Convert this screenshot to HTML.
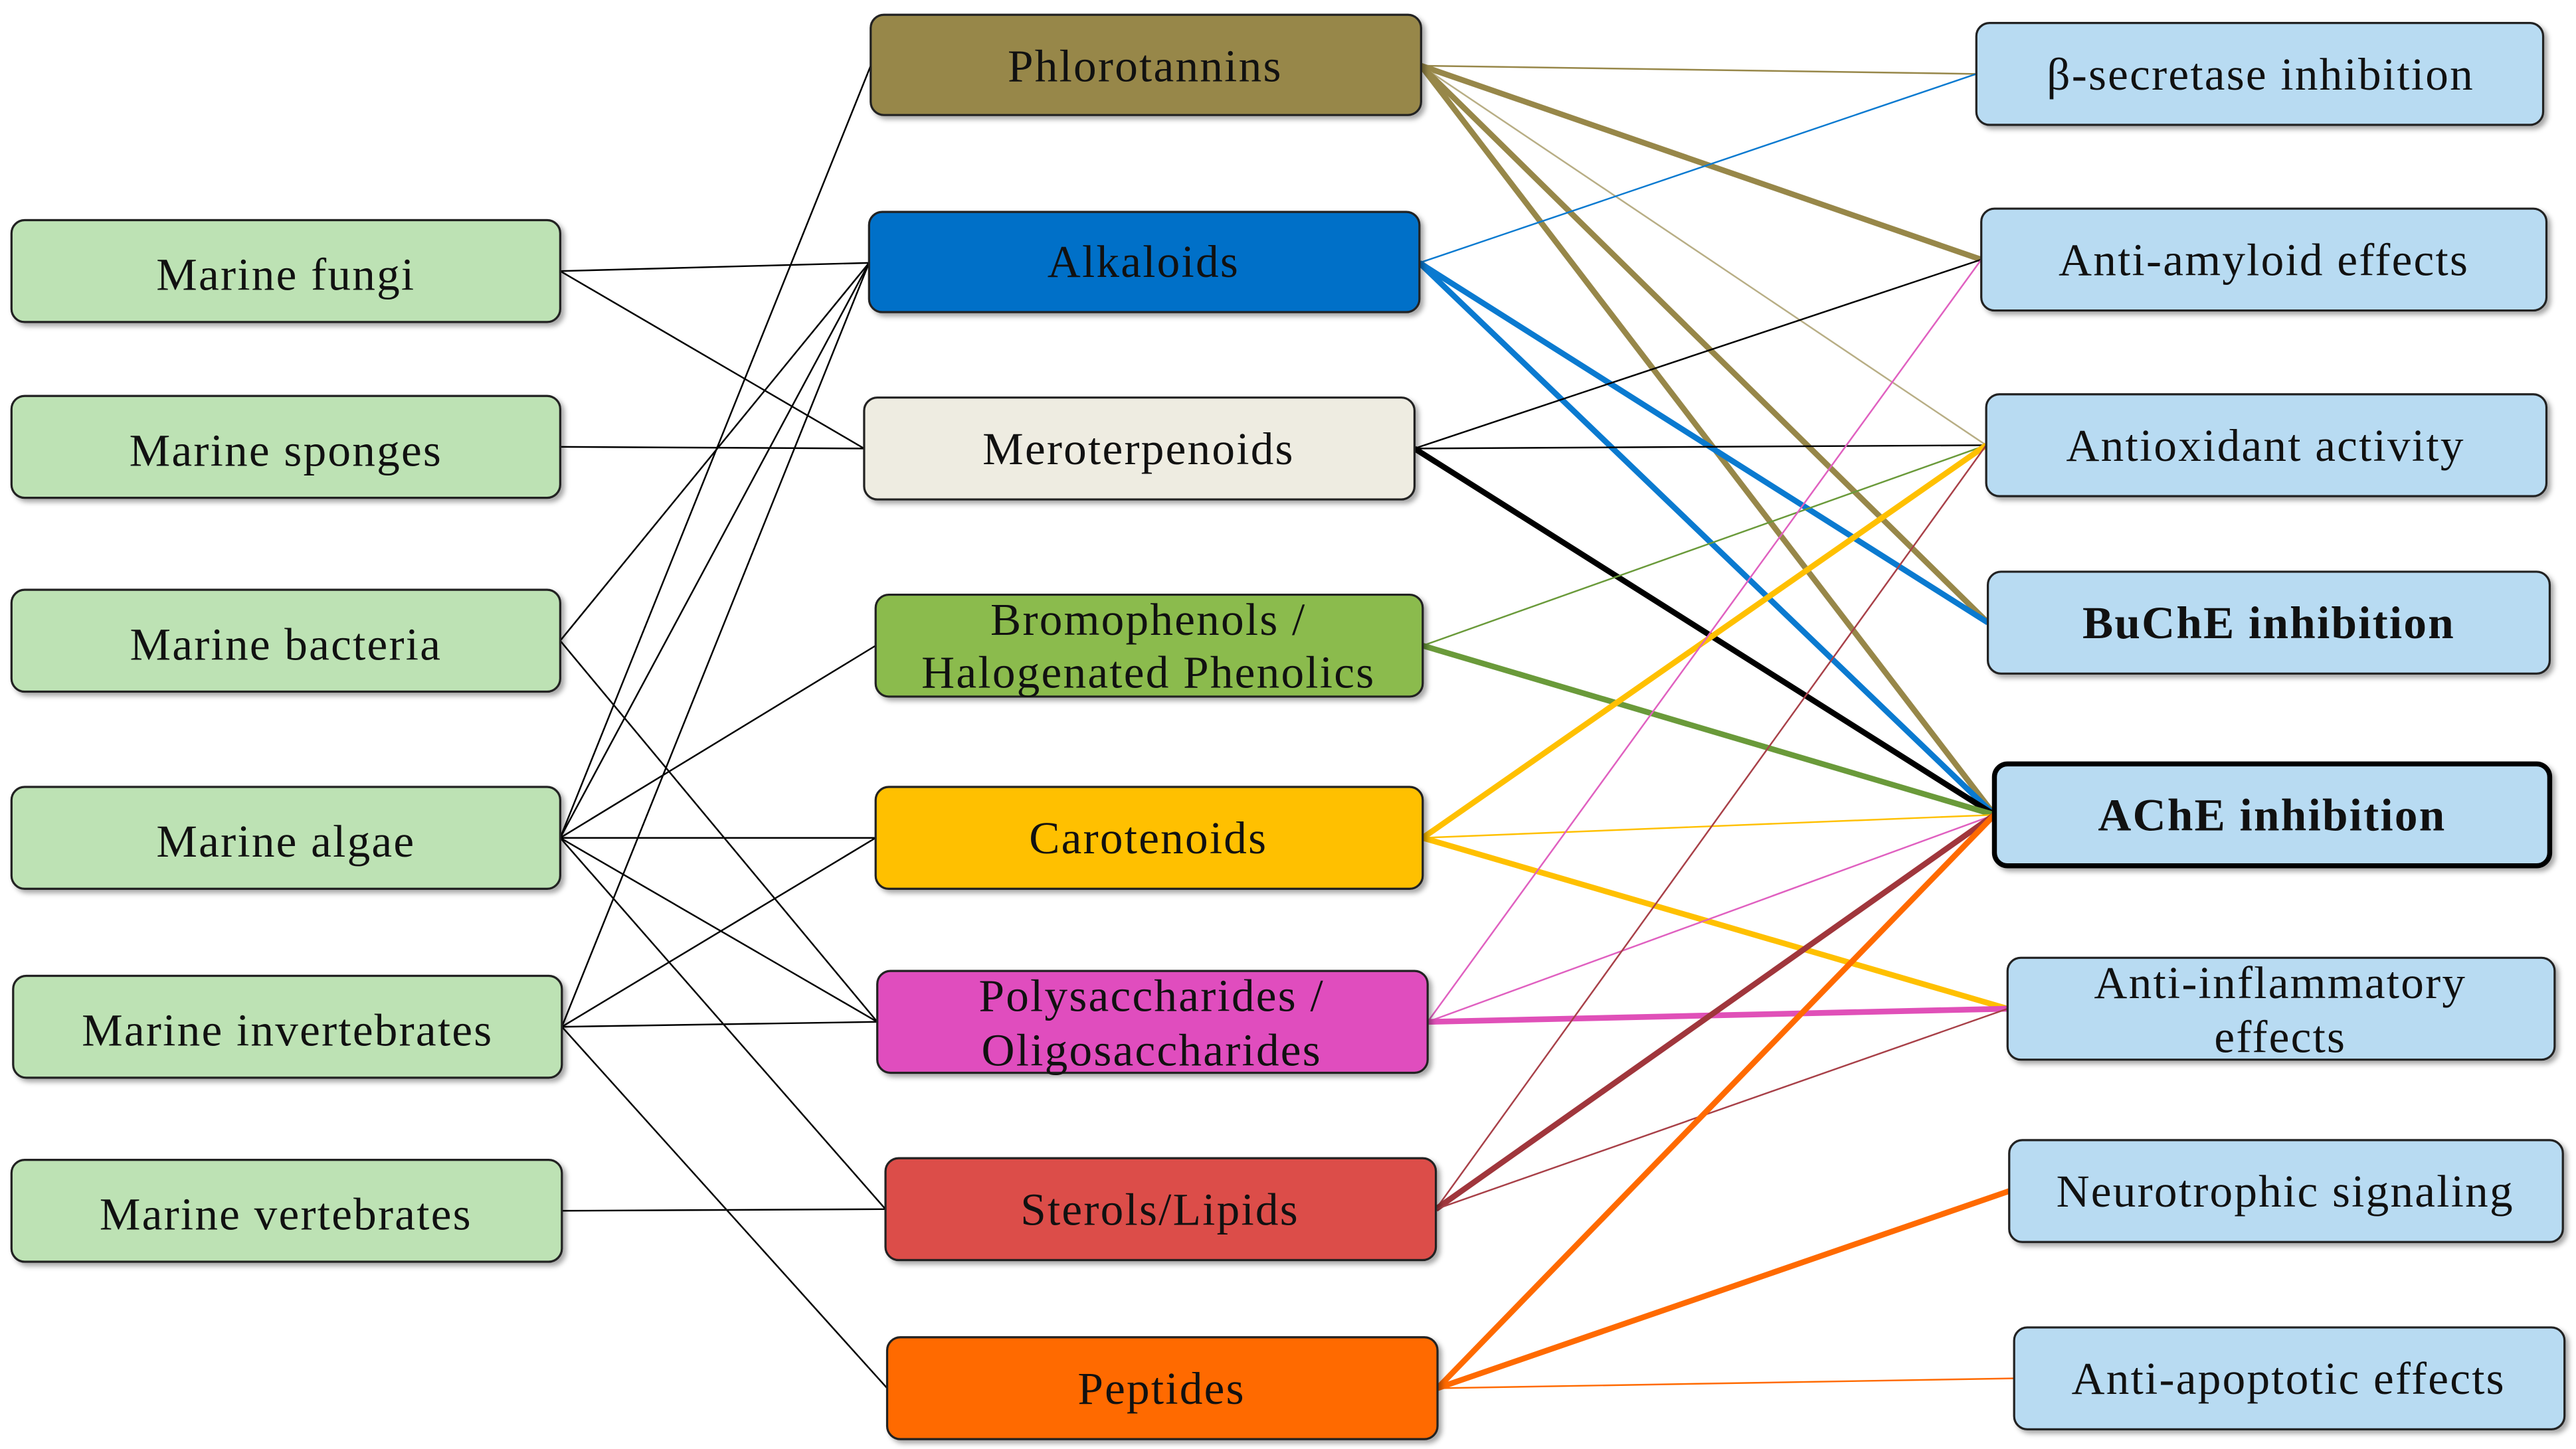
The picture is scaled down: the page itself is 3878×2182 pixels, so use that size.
<!DOCTYPE html>
<html><head><meta charset="utf-8"><style>
html,body{margin:0;padding:0;background:#fff}
svg{display:block}
text{font-family:"Liberation Serif",serif;font-size:28px;letter-spacing:0.9px;fill:#111;text-anchor:middle;dominant-baseline:central}
</style></head><body>
<svg width="3878" height="2182" viewBox="0 0 1568 882" preserveAspectRatio="none" xmlns="http://www.w3.org/2000/svg">
<defs><filter id="sh" x="-5%" y="-10%" width="110%" height="130%"><feDropShadow dx="2" dy="2" stdDeviation="1.5" flood-color="#000" flood-opacity="0.35"/></filter></defs>
<g stroke="#000" stroke-width="1">
<line x1="341" y1="165" x2="529" y2="160"/>
<line x1="341" y1="165" x2="526" y2="273"/>
<line x1="341" y1="272" x2="526" y2="273"/>
<line x1="341" y1="390" x2="529" y2="160"/>
<line x1="341" y1="390" x2="534" y2="622"/>
<line x1="341" y1="510" x2="530" y2="40"/>
<line x1="341" y1="510" x2="529" y2="160"/>
<line x1="341" y1="510" x2="533" y2="393"/>
<line x1="341" y1="510" x2="533" y2="510"/>
<line x1="341" y1="510" x2="534" y2="622"/>
<line x1="341" y1="510" x2="539" y2="736"/>
<line x1="342" y1="625" x2="529" y2="160"/>
<line x1="342" y1="625" x2="533" y2="510"/>
<line x1="342" y1="625" x2="534" y2="622"/>
<line x1="342" y1="625" x2="540" y2="845"/>
<line x1="342" y1="737" x2="539" y2="736"/>
</g>
<g fill="none">
<line x1="865" y1="40" x2="1203" y2="45" stroke="#978749" stroke-width="1"/>
<line x1="865" y1="40" x2="1206" y2="158" stroke="#978749" stroke-width="3.5"/>
<line x1="865" y1="40" x2="1209" y2="271" stroke="#b8ae85" stroke-width="1"/>
<line x1="865" y1="40" x2="1210" y2="379" stroke="#978749" stroke-width="3.5"/>
<line x1="865" y1="40" x2="1214" y2="496" stroke="#978749" stroke-width="3.5"/>
<line x1="864" y1="160" x2="1203" y2="45" stroke="#0a7ad0" stroke-width="1"/>
<line x1="864" y1="160" x2="1210" y2="379" stroke="#0a7ad0" stroke-width="3.5"/>
<line x1="864" y1="160" x2="1214" y2="496" stroke="#0a7ad0" stroke-width="3.5"/>
<line x1="861" y1="273" x2="1206" y2="158" stroke="#000" stroke-width="1"/>
<line x1="861" y1="273" x2="1209" y2="271" stroke="#000" stroke-width="1"/>
<line x1="861" y1="273" x2="1214" y2="496" stroke="#000" stroke-width="3.5"/>
<line x1="866" y1="393" x2="1209" y2="271" stroke="#6a9a3a" stroke-width="1"/>
<line x1="866" y1="393" x2="1214" y2="496" stroke="#6a9a3a" stroke-width="3.5"/>
<line x1="866" y1="510" x2="1209" y2="271" stroke="#ffc000" stroke-width="3.5"/>
<line x1="866" y1="510" x2="1214" y2="496" stroke="#ffc000" stroke-width="1"/>
<line x1="866" y1="510" x2="1222" y2="614" stroke="#ffc000" stroke-width="3.5"/>
<line x1="869" y1="622" x2="1206" y2="158" stroke="#e060c0" stroke-width="1"/>
<line x1="869" y1="622" x2="1214" y2="496" stroke="#e060c0" stroke-width="1"/>
<line x1="869" y1="622" x2="1222" y2="614" stroke="#e050b8" stroke-width="3.5"/>
<line x1="874" y1="736" x2="1209" y2="271" stroke="#a84048" stroke-width="1"/>
<line x1="874" y1="736" x2="1214" y2="496" stroke="#a0363c" stroke-width="3.5"/>
<line x1="874" y1="736" x2="1222" y2="614" stroke="#a84048" stroke-width="1"/>
<line x1="875" y1="845" x2="1214" y2="496" stroke="#ff6a00" stroke-width="3.5"/>
<line x1="875" y1="845" x2="1223" y2="725" stroke="#ff6a00" stroke-width="3.5"/>
<line x1="875" y1="845" x2="1226" y2="839" stroke="#ff6a00" stroke-width="1"/>
</g>
<g stroke="#222" stroke-width="1.3" filter="url(#sh)">
<g fill="#bde2b4">
<rect x="7" y="134" width="334" height="62" rx="8"/>
<rect x="7" y="241" width="334" height="62" rx="8"/>
<rect x="7" y="359" width="334" height="62" rx="8"/>
<rect x="7" y="479" width="334" height="62" rx="8"/>
<rect x="8" y="594" width="334" height="62" rx="8"/>
<rect x="7" y="706" width="335" height="62" rx="8"/>
</g>
<rect x="530" y="9" width="335" height="61" rx="8" fill="#978749"/>
<rect x="529" y="129" width="335" height="61" rx="8" fill="#0070c8"/>
<rect x="526" y="242" width="335" height="62" rx="8" fill="#eeece1"/>
<rect x="533" y="362" width="333" height="62" rx="8" fill="#8bbb4e"/>
<rect x="533" y="479" width="333" height="62" rx="8" fill="#ffc000"/>
<rect x="534" y="591" width="335" height="62" rx="8" fill="#e04ebe"/>
<rect x="539" y="705" width="335" height="62" rx="8" fill="#dc4e4a"/>
<rect x="540" y="814" width="335" height="62" rx="8" fill="#ff6a00"/>
<g fill="#b8dbf2">
<rect x="1203" y="14" width="345" height="62" rx="8"/>
<rect x="1206" y="127" width="344" height="62" rx="8"/>
<rect x="1209" y="240" width="341" height="62" rx="8"/>
<rect x="1210" y="348" width="342" height="62" rx="8"/>
<rect x="1214" y="465" width="338" height="62" rx="8" stroke="#000" stroke-width="3"/>
<rect x="1222" y="583" width="333" height="62" rx="8"/>
<rect x="1223" y="694" width="337" height="62" rx="8"/>
<rect x="1226" y="808" width="335" height="62" rx="8"/>
</g>
</g>
<text x="174" y="167">Marine fungi</text>
<text x="174" y="274">Marine sponges</text>
<text x="174" y="392">Marine bacteria</text>
<text x="174" y="512">Marine algae</text>
<text x="175" y="627">Marine invertebrates</text>
<text x="174" y="739">Marine vertebrates</text>
<text x="697" y="40">Phlorotannins</text>
<text x="696" y="159">Alkaloids</text>
<text x="693" y="273">Meroterpenoids</text>
<text x="699" y="377">Bromophenols /</text>
<text x="699" y="409">Halogenated Phenolics</text>
<text x="699" y="510">Carotenoids</text>
<text x="701" y="606">Polysaccharides /</text>
<text x="701" y="639">Oligosaccharides</text>
<text x="706" y="736">Sterols/Lipids</text>
<text x="707" y="845">Peptides</text>
<text x="1376" y="45">β-secretase inhibition</text>
<text x="1378" y="158">Anti-amyloid effects</text>
<text x="1379" y="271">Antioxidant activity</text>
<text x="1381" y="379" font-weight="bold">BuChE inhibition</text>
<text x="1383" y="496" font-weight="bold">AChE inhibition</text>
<text x="1388" y="598">Anti-inflammatory</text>
<text x="1388" y="631">effects</text>
<text x="1391" y="725">Neurotrophic signaling</text>
<text x="1393" y="839">Anti-apoptotic effects</text>
</svg>
</body></html>
